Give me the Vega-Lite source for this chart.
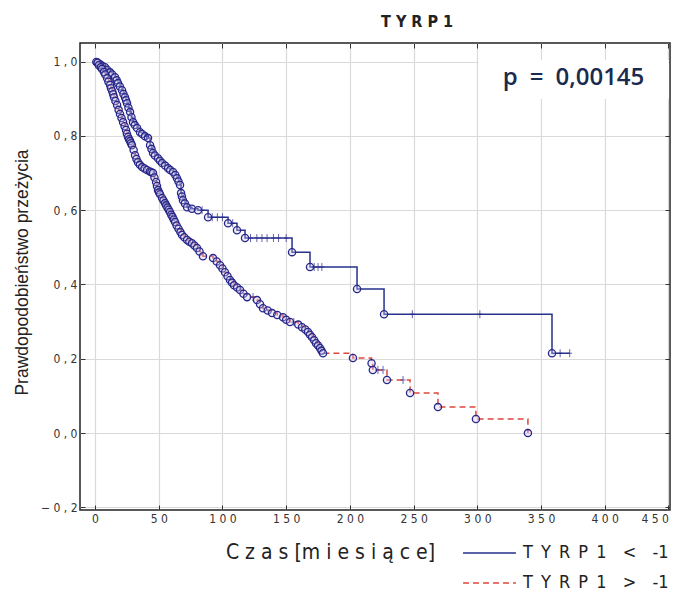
{
  "$schema": "https://vega.github.io/schema/vega-lite/v6.json",
  "width": 590,
  "height": 467,
  "autosize": "none",
  "padding": {"left": 80, "top": 43, "right": 11, "bottom": 86},
  "background": "white",
  "title": {"text": "T Y R P 1", "font": "Liberation Sans Narrow, DejaVu Sans Condensed, Liberation Sans, sans-serif", "fontSize": 16, "fontWeight": "bold", "color": "#222222", "dx": 42, "offset": 13},
  "config": {
    "view": {"stroke": "#222222", "strokeWidth": 1.5},
    "axis": {"labelFont": "Liberation Sans Narrow, DejaVu Sans Condensed, Liberation Sans, sans-serif", "labelColor": "#333333", "labelFontSize": 12, "gridColor": "#dadada", "gridWidth": 1.2, "tickColor": "#333333", "domain": false}
  },
  "datasets": {
    "km": [
      {"g": "TYRP1 < -1", "t": 0, "s": 1.0, "k": "s"},
      {"g": "TYRP1 < -1", "t": 2, "s": 0.997, "k": "e"},
      {"g": "TYRP1 < -1", "t": 3.9, "s": 0.993, "k": "e"},
      {"g": "TYRP1 < -1", "t": 5.5, "s": 0.989, "k": "e"},
      {"g": "TYRP1 < -1", "t": 7.8, "s": 0.985, "k": "e"},
      {"g": "TYRP1 < -1", "t": 9.5, "s": 0.978, "k": "e"},
      {"g": "TYRP1 < -1", "t": 11.8, "s": 0.971, "k": "e"},
      {"g": "TYRP1 < -1", "t": 13.5, "s": 0.965, "k": "e"},
      {"g": "TYRP1 < -1", "t": 15.7, "s": 0.958, "k": "e"},
      {"g": "TYRP1 < -1", "t": 17, "s": 0.95, "k": "e"},
      {"g": "TYRP1 < -1", "t": 18, "s": 0.942, "k": "e"},
      {"g": "TYRP1 < -1", "t": 19.5, "s": 0.933, "k": "e"},
      {"g": "TYRP1 < -1", "t": 21.2, "s": 0.923, "k": "e"},
      {"g": "TYRP1 < -1", "t": 22.3, "s": 0.913, "k": "e"},
      {"g": "TYRP1 < -1", "t": 23.5, "s": 0.904, "k": "e"},
      {"g": "TYRP1 < -1", "t": 24.3, "s": 0.896, "k": "e"},
      {"g": "TYRP1 < -1", "t": 25.1, "s": 0.888, "k": "e"},
      {"g": "TYRP1 < -1", "t": 26.2, "s": 0.876, "k": "e"},
      {"g": "TYRP1 < -1", "t": 27.5, "s": 0.864, "k": "e"},
      {"g": "TYRP1 < -1", "t": 28.6, "s": 0.85, "k": "e"},
      {"g": "TYRP1 < -1", "t": 29.8, "s": 0.837, "k": "e"},
      {"g": "TYRP1 < -1", "t": 31.2, "s": 0.829, "k": "e"},
      {"g": "TYRP1 < -1", "t": 33, "s": 0.821, "k": "e"},
      {"g": "TYRP1 < -1", "t": 35.3, "s": 0.81, "k": "e"},
      {"g": "TYRP1 < -1", "t": 37, "s": 0.805, "k": "e"},
      {"g": "TYRP1 < -1", "t": 39.2, "s": 0.799, "k": "e"},
      {"g": "TYRP1 < -1", "t": 40.5, "s": 0.799, "k": "c"},
      {"g": "TYRP1 < -1", "t": 41.6, "s": 0.794, "k": "e"},
      {"g": "TYRP1 < -1", "t": 43.2, "s": 0.775, "k": "e"},
      {"g": "TYRP1 < -1", "t": 44.3, "s": 0.765, "k": "e"},
      {"g": "TYRP1 < -1", "t": 45.5, "s": 0.754, "k": "e"},
      {"g": "TYRP1 < -1", "t": 47, "s": 0.747, "k": "e"},
      {"g": "TYRP1 < -1", "t": 49.4, "s": 0.74, "k": "e"},
      {"g": "TYRP1 < -1", "t": 51, "s": 0.733, "k": "e"},
      {"g": "TYRP1 < -1", "t": 52.6, "s": 0.727, "k": "e"},
      {"g": "TYRP1 < -1", "t": 55, "s": 0.72, "k": "e"},
      {"g": "TYRP1 < -1", "t": 57.3, "s": 0.713, "k": "e"},
      {"g": "TYRP1 < -1", "t": 59, "s": 0.708, "k": "e"},
      {"g": "TYRP1 < -1", "t": 61.2, "s": 0.703, "k": "e"},
      {"g": "TYRP1 < -1", "t": 63, "s": 0.695, "k": "e"},
      {"g": "TYRP1 < -1", "t": 64.3, "s": 0.686, "k": "e"},
      {"g": "TYRP1 < -1", "t": 65.5, "s": 0.677, "k": "e"},
      {"g": "TYRP1 < -1", "t": 66.7, "s": 0.668, "k": "e"},
      {"g": "TYRP1 < -1", "t": 67.5, "s": 0.646, "k": "e"},
      {"g": "TYRP1 < -1", "t": 68.2, "s": 0.637, "k": "e"},
      {"g": "TYRP1 < -1", "t": 69, "s": 0.627, "k": "e"},
      {"g": "TYRP1 < -1", "t": 70.5, "s": 0.618, "k": "e"},
      {"g": "TYRP1 < -1", "t": 72.2, "s": 0.608, "k": "e"},
      {"g": "TYRP1 < -1", "t": 76, "s": 0.604, "k": "e"},
      {"g": "TYRP1 < -1", "t": 80.8, "s": 0.6, "k": "e"},
      {"g": "TYRP1 < -1", "t": 84, "s": 0.6, "k": "c"},
      {"g": "TYRP1 < -1", "t": 88.7, "s": 0.581, "k": "e"},
      {"g": "TYRP1 < -1", "t": 92, "s": 0.581, "k": "c"},
      {"g": "TYRP1 < -1", "t": 96, "s": 0.581, "k": "c"},
      {"g": "TYRP1 < -1", "t": 100, "s": 0.581, "k": "c"},
      {"g": "TYRP1 < -1", "t": 104.4, "s": 0.565, "k": "e"},
      {"g": "TYRP1 < -1", "t": 108, "s": 0.565, "k": "c"},
      {"g": "TYRP1 < -1", "t": 111.4, "s": 0.546, "k": "e"},
      {"g": "TYRP1 < -1", "t": 117.7, "s": 0.525, "k": "e"},
      {"g": "TYRP1 < -1", "t": 122, "s": 0.525, "k": "c"},
      {"g": "TYRP1 < -1", "t": 127, "s": 0.525, "k": "c"},
      {"g": "TYRP1 < -1", "t": 131, "s": 0.525, "k": "c"},
      {"g": "TYRP1 < -1", "t": 135, "s": 0.525, "k": "c"},
      {"g": "TYRP1 < -1", "t": 140, "s": 0.525, "k": "c"},
      {"g": "TYRP1 < -1", "t": 144, "s": 0.525, "k": "c"},
      {"g": "TYRP1 < -1", "t": 150, "s": 0.525, "k": "c"},
      {"g": "TYRP1 < -1", "t": 154.6, "s": 0.487, "k": "e"},
      {"g": "TYRP1 < -1", "t": 168.7, "s": 0.447, "k": "e"},
      {"g": "TYRP1 < -1", "t": 172, "s": 0.447, "k": "c"},
      {"g": "TYRP1 < -1", "t": 175, "s": 0.447, "k": "c"},
      {"g": "TYRP1 < -1", "t": 178, "s": 0.447, "k": "c"},
      {"g": "TYRP1 < -1", "t": 205.6, "s": 0.388, "k": "e"},
      {"g": "TYRP1 < -1", "t": 226.8, "s": 0.32, "k": "e"},
      {"g": "TYRP1 < -1", "t": 249, "s": 0.32, "k": "c"},
      {"g": "TYRP1 < -1", "t": 302, "s": 0.32, "k": "c"},
      {"g": "TYRP1 < -1", "t": 358.6, "s": 0.215, "k": "e"},
      {"g": "TYRP1 < -1", "t": 365, "s": 0.215, "k": "c"},
      {"g": "TYRP1 < -1", "t": 372.5, "s": 0.215, "k": "c"},
      {"g": "TYRP1 > -1", "t": 0, "s": 1.0, "k": "s"},
      {"g": "TYRP1 > -1", "t": 1, "s": 0.999, "k": "e"},
      {"g": "TYRP1 > -1", "t": 2, "s": 0.997, "k": "e"},
      {"g": "TYRP1 > -1", "t": 3, "s": 0.99, "k": "e"},
      {"g": "TYRP1 > -1", "t": 4.5, "s": 0.985, "k": "e"},
      {"g": "TYRP1 > -1", "t": 5.5, "s": 0.98, "k": "e"},
      {"g": "TYRP1 > -1", "t": 7, "s": 0.972, "k": "e"},
      {"g": "TYRP1 > -1", "t": 8, "s": 0.965, "k": "e"},
      {"g": "TYRP1 > -1", "t": 9.5, "s": 0.955, "k": "e"},
      {"g": "TYRP1 > -1", "t": 10.5, "s": 0.946, "k": "e"},
      {"g": "TYRP1 > -1", "t": 11.8, "s": 0.937, "k": "e"},
      {"g": "TYRP1 > -1", "t": 12.5, "s": 0.928, "k": "e"},
      {"g": "TYRP1 > -1", "t": 13.5, "s": 0.92, "k": "e"},
      {"g": "TYRP1 > -1", "t": 14.2, "s": 0.912, "k": "e"},
      {"g": "TYRP1 > -1", "t": 14.9, "s": 0.904, "k": "e"},
      {"g": "TYRP1 > -1", "t": 16, "s": 0.894, "k": "e"},
      {"g": "TYRP1 > -1", "t": 17.3, "s": 0.883, "k": "e"},
      {"g": "TYRP1 > -1", "t": 18.5, "s": 0.87, "k": "e"},
      {"g": "TYRP1 > -1", "t": 19.6, "s": 0.859, "k": "e"},
      {"g": "TYRP1 > -1", "t": 20.8, "s": 0.848, "k": "e"},
      {"g": "TYRP1 > -1", "t": 22, "s": 0.837, "k": "e"},
      {"g": "TYRP1 > -1", "t": 23.2, "s": 0.826, "k": "e"},
      {"g": "TYRP1 > -1", "t": 24.3, "s": 0.816, "k": "e"},
      {"g": "TYRP1 > -1", "t": 25, "s": 0.806, "k": "e"},
      {"g": "TYRP1 > -1", "t": 25.9, "s": 0.797, "k": "e"},
      {"g": "TYRP1 > -1", "t": 26.7, "s": 0.791, "k": "e"},
      {"g": "TYRP1 > -1", "t": 27.5, "s": 0.786, "k": "e"},
      {"g": "TYRP1 > -1", "t": 28.2, "s": 0.78, "k": "e"},
      {"g": "TYRP1 > -1", "t": 29, "s": 0.775, "k": "e"},
      {"g": "TYRP1 > -1", "t": 30.3, "s": 0.762, "k": "e"},
      {"g": "TYRP1 > -1", "t": 31.4, "s": 0.748, "k": "e"},
      {"g": "TYRP1 > -1", "t": 32.5, "s": 0.738, "k": "e"},
      {"g": "TYRP1 > -1", "t": 33.7, "s": 0.729, "k": "e"},
      {"g": "TYRP1 > -1", "t": 35.2, "s": 0.722, "k": "e"},
      {"g": "TYRP1 > -1", "t": 36.9, "s": 0.716, "k": "e"},
      {"g": "TYRP1 > -1", "t": 38.8, "s": 0.712, "k": "e"},
      {"g": "TYRP1 > -1", "t": 40.8, "s": 0.708, "k": "e"},
      {"g": "TYRP1 > -1", "t": 43, "s": 0.704, "k": "e"},
      {"g": "TYRP1 > -1", "t": 44.2, "s": 0.702, "k": "e"},
      {"g": "TYRP1 > -1", "t": 45.5, "s": 0.7, "k": "e"},
      {"g": "TYRP1 > -1", "t": 46.6, "s": 0.688, "k": "e"},
      {"g": "TYRP1 > -1", "t": 47.9, "s": 0.676, "k": "e"},
      {"g": "TYRP1 > -1", "t": 48.6, "s": 0.665, "k": "e"},
      {"g": "TYRP1 > -1", "t": 49.4, "s": 0.654, "k": "e"},
      {"g": "TYRP1 > -1", "t": 50.2, "s": 0.648, "k": "e"},
      {"g": "TYRP1 > -1", "t": 51, "s": 0.643, "k": "e"},
      {"g": "TYRP1 > -1", "t": 52.6, "s": 0.633, "k": "e"},
      {"g": "TYRP1 > -1", "t": 53.7, "s": 0.626, "k": "e"},
      {"g": "TYRP1 > -1", "t": 54.9, "s": 0.619, "k": "e"},
      {"g": "TYRP1 > -1", "t": 55.8, "s": 0.613, "k": "e"},
      {"g": "TYRP1 > -1", "t": 56.8, "s": 0.607, "k": "e"},
      {"g": "TYRP1 > -1", "t": 57.8, "s": 0.601, "k": "e"},
      {"g": "TYRP1 > -1", "t": 58.8, "s": 0.595, "k": "e"},
      {"g": "TYRP1 > -1", "t": 59.8, "s": 0.588, "k": "e"},
      {"g": "TYRP1 > -1", "t": 60.8, "s": 0.582, "k": "e"},
      {"g": "TYRP1 > -1", "t": 61.8, "s": 0.575, "k": "e"},
      {"g": "TYRP1 > -1", "t": 62.8, "s": 0.568, "k": "e"},
      {"g": "TYRP1 > -1", "t": 64, "s": 0.559, "k": "e"},
      {"g": "TYRP1 > -1", "t": 65.5, "s": 0.55, "k": "e"},
      {"g": "TYRP1 > -1", "t": 67, "s": 0.541, "k": "e"},
      {"g": "TYRP1 > -1", "t": 68.3, "s": 0.533, "k": "e"},
      {"g": "TYRP1 > -1", "t": 70, "s": 0.527, "k": "e"},
      {"g": "TYRP1 > -1", "t": 72.2, "s": 0.52, "k": "e"},
      {"g": "TYRP1 > -1", "t": 74, "s": 0.515, "k": "e"},
      {"g": "TYRP1 > -1", "t": 76.1, "s": 0.511, "k": "e"},
      {"g": "TYRP1 > -1", "t": 78, "s": 0.505, "k": "e"},
      {"g": "TYRP1 > -1", "t": 80, "s": 0.498, "k": "e"},
      {"g": "TYRP1 > -1", "t": 82, "s": 0.489, "k": "e"},
      {"g": "TYRP1 > -1", "t": 84.7, "s": 0.476, "k": "e"},
      {"g": "TYRP1 > -1", "t": 92.6, "s": 0.471, "k": "e"},
      {"g": "TYRP1 > -1", "t": 95.5, "s": 0.462, "k": "e"},
      {"g": "TYRP1 > -1", "t": 98.1, "s": 0.452, "k": "e"},
      {"g": "TYRP1 > -1", "t": 100, "s": 0.443, "k": "e"},
      {"g": "TYRP1 > -1", "t": 102, "s": 0.433, "k": "e"},
      {"g": "TYRP1 > -1", "t": 104, "s": 0.422, "k": "e"},
      {"g": "TYRP1 > -1", "t": 105.9, "s": 0.412, "k": "e"},
      {"g": "TYRP1 > -1", "t": 107.5, "s": 0.405, "k": "e"},
      {"g": "TYRP1 > -1", "t": 109.1, "s": 0.398, "k": "e"},
      {"g": "TYRP1 > -1", "t": 111.5, "s": 0.392, "k": "e"},
      {"g": "TYRP1 > -1", "t": 113.8, "s": 0.385, "k": "e"},
      {"g": "TYRP1 > -1", "t": 116.5, "s": 0.375, "k": "e"},
      {"g": "TYRP1 > -1", "t": 119.3, "s": 0.366, "k": "e"},
      {"g": "TYRP1 > -1", "t": 124, "s": 0.366, "k": "c"},
      {"g": "TYRP1 > -1", "t": 127.1, "s": 0.358, "k": "e"},
      {"g": "TYRP1 > -1", "t": 129.5, "s": 0.347, "k": "e"},
      {"g": "TYRP1 > -1", "t": 131.8, "s": 0.336, "k": "e"},
      {"g": "TYRP1 > -1", "t": 135.5, "s": 0.33, "k": "e"},
      {"g": "TYRP1 > -1", "t": 138.9, "s": 0.323, "k": "e"},
      {"g": "TYRP1 > -1", "t": 143, "s": 0.318, "k": "e"},
      {"g": "TYRP1 > -1", "t": 147.5, "s": 0.312, "k": "e"},
      {"g": "TYRP1 > -1", "t": 150, "s": 0.305, "k": "e"},
      {"g": "TYRP1 > -1", "t": 153, "s": 0.299, "k": "e"},
      {"g": "TYRP1 > -1", "t": 156, "s": 0.299, "k": "c"},
      {"g": "TYRP1 > -1", "t": 159.5, "s": 0.292, "k": "e"},
      {"g": "TYRP1 > -1", "t": 162.4, "s": 0.285, "k": "e"},
      {"g": "TYRP1 > -1", "t": 165, "s": 0.279, "k": "e"},
      {"g": "TYRP1 > -1", "t": 167.1, "s": 0.272, "k": "e"},
      {"g": "TYRP1 > -1", "t": 168.7, "s": 0.265, "k": "e"},
      {"g": "TYRP1 > -1", "t": 170.3, "s": 0.258, "k": "e"},
      {"g": "TYRP1 > -1", "t": 172, "s": 0.25, "k": "e"},
      {"g": "TYRP1 > -1", "t": 173.4, "s": 0.242, "k": "e"},
      {"g": "TYRP1 > -1", "t": 175, "s": 0.236, "k": "e"},
      {"g": "TYRP1 > -1", "t": 176.5, "s": 0.229, "k": "e"},
      {"g": "TYRP1 > -1", "t": 177.7, "s": 0.222, "k": "e"},
      {"g": "TYRP1 > -1", "t": 178.9, "s": 0.215, "k": "e"},
      {"g": "TYRP1 > -1", "t": 202.4, "s": 0.202, "k": "e"},
      {"g": "TYRP1 > -1", "t": 217, "s": 0.188, "k": "e"},
      {"g": "TYRP1 > -1", "t": 218, "s": 0.17, "k": "e"},
      {"g": "TYRP1 > -1", "t": 222, "s": 0.17, "k": "c"},
      {"g": "TYRP1 > -1", "t": 226, "s": 0.17, "k": "c"},
      {"g": "TYRP1 > -1", "t": 229.1, "s": 0.143, "k": "e"},
      {"g": "TYRP1 > -1", "t": 241.7, "s": 0.143, "k": "c"},
      {"g": "TYRP1 > -1", "t": 247.2, "s": 0.108, "k": "e"},
      {"g": "TYRP1 > -1", "t": 269.1, "s": 0.07, "k": "e"},
      {"g": "TYRP1 > -1", "t": 298.9, "s": 0.038, "k": "e"},
      {"g": "TYRP1 > -1", "t": 339.7, "s": 0.0, "k": "e"}
    ],
    "note": [
      {"label": "p\u2002=\u20020,00145", "t": 375.5, "s": 0.955, "x1": 301, "x2": 450.4, "y1": 0.9, "y2": 1.004}
    ]
  },
  "layer": [
    {
      "data": {"name": "note"},
      "mark": {"type": "rect", "fill": "white", "stroke": null},
      "encoding": {
        "x": {"field": "x1", "type": "quantitative", "axis": null},
        "x2": {"field": "x2"},
        "y": {"field": "y1", "type": "quantitative", "axis": null},
        "y2": {"field": "y2"}
      }
    },
    {
      "data": {"name": "km"},
      "mark": {"type": "line", "interpolate": "step-after", "strokeWidth": 1.5},
      "encoding": {
        "x": {
          "field": "t", "type": "quantitative",
          "scale": {"domain": [-11.8, 451.2], "nice": false, "zero": false},
          "axis": {
            "values": [0, 50, 100, 150, 200, 250, 300, 350, 400, 450],
            "grid": true, "tickSize": -5, "labelPadding": 8,
            "labelExpr": "join(split(format(datum.value, 'd'), ''), ' ')",
            "labelAlign": {"condition": {"test": "datum.value == 450", "value": "right"}, "value": "center"},
            "title": "C z a s  [m i e s i ą c e]",
            "titleFont": "Liberation Sans Narrow, DejaVu Sans Condensed, Liberation Sans, sans-serif",
            "titleFontSize": 21, "titleFontWeight": "normal", "titleColor": "#222222",
            "titleX": 250, "titleY": 42, "titleAlign": "center", "titleBaseline": "middle"
          }
        },
        "y": {
          "field": "s", "type": "quantitative",
          "scale": {"domain": [-0.207, 1.05], "nice": false, "zero": false},
          "axis": {
            "values": [-0.2, 0, 0.2, 0.4, 0.6, 0.8, 1.0],
            "grid": true, "tickSize": -5, "labelPadding": 8,
            "labelExpr": "replace(join(split(format(datum.value, '.1f'), ''), ' '), '.', ',')",
            "title": "Prawdopodobieństwo przeżycia",
            "titleFont": "Liberation Sans, Arial, sans-serif",
            "titleFontSize": 17.5, "titleFontWeight": "normal", "titleColor": "#222222",
            "titleX": -58, "titleY": 229, "titleAlign": "center", "titleBaseline": "middle"
          }
        },
        "color": {
          "field": "g", "type": "nominal",
          "scale": {"domain": ["TYRP1 < -1", "TYRP1 > -1"], "range": ["#26318c", "#e0473c"]},
          "legend": {
            "orient": "none", "legendX": 382, "legendY": 502, "title": null, "padding": 0,
            "symbolType": "stroke", "symbolSize": 2800, "symbolStrokeWidth": 1.6,
            "clipHeight": 16, "rowPadding": 12, "labelOffset": 6,
            "labelFont": "Liberation Sans Narrow, DejaVu Sans Condensed, Liberation Sans, sans-serif",
            "labelFontSize": 18, "labelColor": "#222222",
            "labelExpr": "join(split(slice(datum.label, 0, 5), ''), '\u2002') + '\u2002\u2002' + slice(datum.label, 6, 7) + '\u2002\u2002' + slice(datum.label, 8)"
          }
        },
        "strokeDash": {
          "field": "g", "type": "nominal",
          "scale": {"domain": ["TYRP1 < -1", "TYRP1 > -1"], "range": [[1, 0], [6, 4]]},
          "legend": {
            "orient": "none", "legendX": 382, "legendY": 502, "title": null, "padding": 0,
            "symbolType": "stroke", "symbolSize": 2800, "symbolStrokeWidth": 1.6,
            "clipHeight": 16, "rowPadding": 12, "labelOffset": 6,
            "labelFont": "Liberation Sans Narrow, DejaVu Sans Condensed, Liberation Sans, sans-serif",
            "labelFontSize": 18, "labelColor": "#222222",
            "labelExpr": "join(split(slice(datum.label, 0, 5), ''), '\u2002') + '\u2002\u2002' + slice(datum.label, 6, 7) + '\u2002\u2002' + slice(datum.label, 8)"
          }
        }
      }
    },
    {
      "data": {"name": "km"},
      "transform": [{"filter": "datum.k == 'e'"}],
      "mark": {"type": "point", "shape": "circle", "size": 52, "filled": true, "fill": "#cfc8ee", "fillOpacity": 0.35, "stroke": "#27278a", "strokeWidth": 1.3},
      "encoding": {
        "x": {"field": "t", "type": "quantitative", "axis": null},
        "y": {"field": "s", "type": "quantitative", "axis": null}
      }
    },
    {
      "data": {"name": "km"},
      "transform": [{"filter": "datum.k == 'c'"}],
      "mark": {"type": "point", "shape": "M0,-1V1M-0.6,0H0.6", "size": 64, "filled": false, "stroke": "#27278a", "strokeWidth": 1},
      "encoding": {
        "x": {"field": "t", "type": "quantitative", "axis": {"orient": "top", "values": [0, 50, 100, 150, 200, 250, 300, 350, 400, 450], "labels": false, "grid": false, "tickSize": -5, "title": null}},
        "y": {"field": "s", "type": "quantitative", "axis": {"orient": "right", "values": [-0.2, 0, 0.2, 0.4, 0.6, 0.8, 1.0], "labels": false, "grid": false, "tickSize": -5, "title": null}}
      }
    },
    {
      "data": {"name": "note"},
      "mark": {"type": "text", "font": "Open Sans, Liberation Sans, sans-serif", "fontSize": 24, "fontWeight": 600, "color": "#1b2a4e", "align": "center", "baseline": "middle"},
      "encoding": {
        "x": {"field": "t", "type": "quantitative", "axis": null},
        "y": {"field": "s", "type": "quantitative", "axis": null},
        "text": {"field": "label"}
      }
    }
  ],
  "resolve": {"axis": {"x": "independent", "y": "independent"}}
}
